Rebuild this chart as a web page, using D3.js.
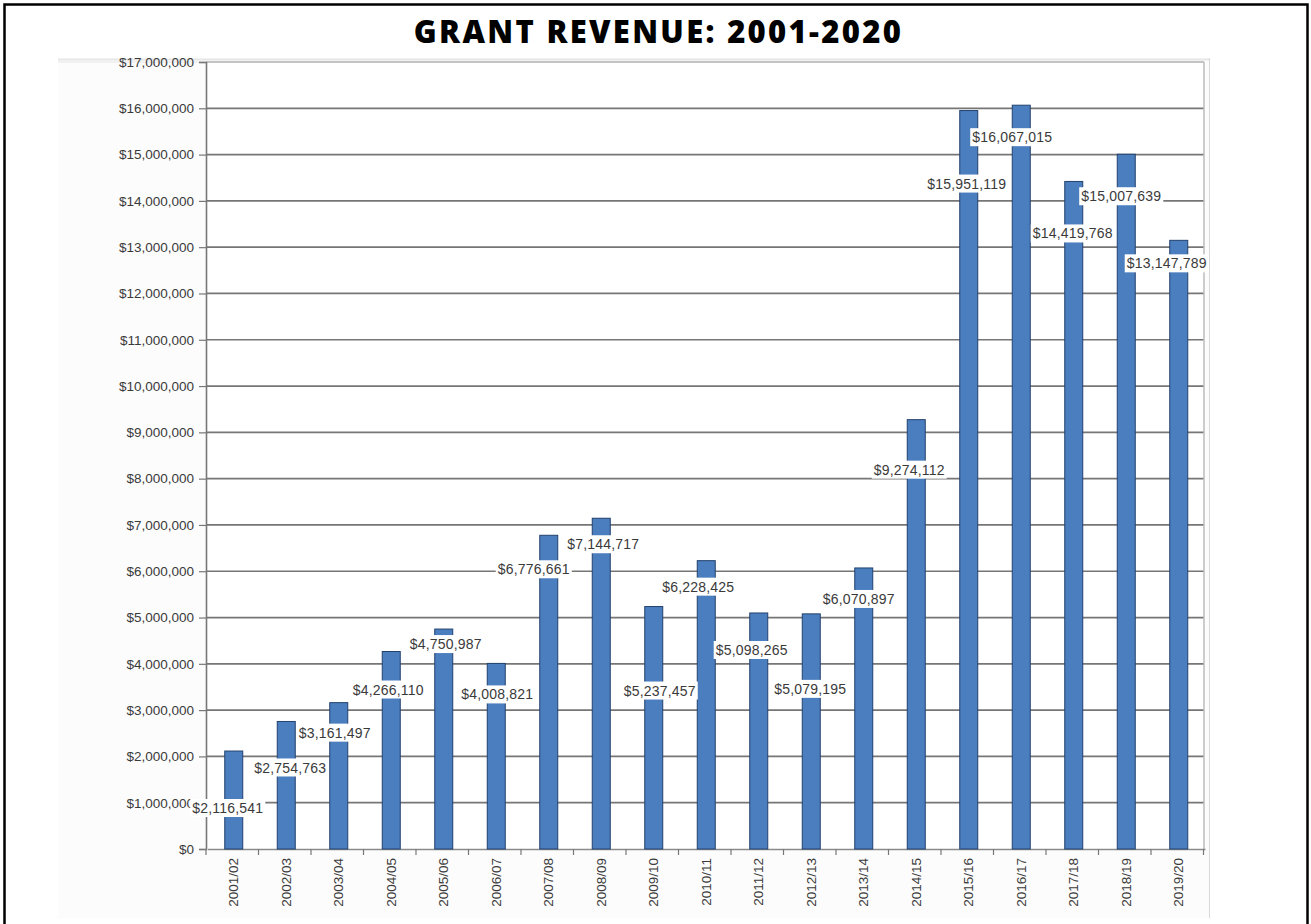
<!DOCTYPE html>
<html>
<head>
<meta charset="utf-8">
<script src="https://cdn.jsdelivr.net/npm/d3@7"></script>
<style>
  html, body { margin: 0; padding: 0; background: #fff; }
  svg { display: block; }
</style>
</head>
<body>
<svg id="chart" width="1311" height="924"></svg>
<script>
// ---- data ----
const categories = ["2001/02","2002/03","2003/04","2004/05","2005/06","2006/07","2007/08","2008/09","2009/10","2010/11","2011/12","2012/13","2013/14","2014/15","2015/16","2016/17","2017/18","2018/19","2019/20"];
const revenue = [2116541, 2754763, 3161497, 4266110, 4750987, 4008821, 6776661, 7144717, 5237457, 6228425, 5098265, 5079195, 6070897, 9274112, 15951119, 16067015, 14419768, 15007639, 13147789];
const yTicks = [0,1000000,2000000,3000000,4000000,5000000,6000000,7000000,8000000,9000000,10000000,11000000,12000000,13000000,14000000,15000000,16000000,17000000];
const titleText = "GRANT REVENUE: 2001-2020";
// label placement offsets (layout only): px relative to bar centre / bar top
const labelDx = [-6, 4, -4, -3, 2, 1, -15, 2, 6, -8, -7, -1, -5, -7, -2, -9, -1, -5, -12];
const labelDy = [57, 46, 30, 38, 15, 31, 34, 26, 84, 26, 37, 75, 31, 50, 73, 32, 52, 42, 23];

const svg = d3.select("#chart");

// outer frame
svg.append("rect").attr("x", 4.5).attr("y", 4.5).attr("width", 1303).attr("height", 940)
  .attr("fill", "none").attr("stroke", "#000").attr("stroke-width", 2.5);

// title
const title = svg.append("text").attr("x", 658.5).attr("y", 43).attr("text-anchor", "middle")
  .attr("font-family", "'Open Sans', sans-serif").attr("font-weight", 800)
  .attr("font-size", 31).attr("fill", "#000").text(titleText);
// fit title to the reference width
const tw = title.node().getComputedTextLength();
title.attr("letter-spacing", Math.max(0, (487 - tw) / 23));

// embedded chart picture backdrop
svg.append("rect").attr("x", 58).attr("y", 59).attr("width", 1151).attr("height", 859)
  .attr("fill", "#fcfcfc");
svg.append("line").attr("x1", 58).attr("x2", 1209).attr("y1", 59.5).attr("y2", 59.5)
  .attr("stroke", "#e6e6e6").attr("stroke-width", 2);
svg.append("line").attr("x1", 1209.5).attr("x2", 1209.5).attr("y1", 58).attr("y2", 918)
  .attr("stroke", "#d8d8d8").attr("stroke-width", 1);

const L = 206, R = 1204, T = 62, B = 849;

const x = d3.scaleBand().domain(categories).range([L + 1.5, R + 1]).paddingInner(0).paddingOuter(0);
const y = d3.scaleLinear().domain([0, 17000000]).range([B, T]);

// plot area
svg.append("rect").attr("x", L).attr("y", T).attr("width", R - L).attr("height", B - T).attr("fill", "#fff");

// gridlines
svg.append("g").selectAll("line").data(yTicks.filter(d => d > 0 && d < 17000000)).join("line")
  .attr("x1", L).attr("x2", R).attr("y1", d => y(d)).attr("y2", d => y(d))
  .attr("stroke", "#767676").attr("stroke-width", 1.7);
// top & right border of plot
svg.append("line").attr("x1", L).attr("x2", R).attr("y1", y(17000000)).attr("y2", y(17000000))
  .attr("stroke", "#c4c4c4").attr("stroke-width", 1.8);
svg.append("line").attr("x1", 58).attr("x2", L).attr("y1", y(17000000)).attr("y2", y(17000000))
  .attr("stroke", "#eeeeee").attr("stroke-width", 1.5);
svg.append("line").attr("x1", R).attr("x2", R).attr("y1", T).attr("y2", B)
  .attr("stroke", "#bdbdbd").attr("stroke-width", 1.5);

// y axis
const yAxis = d3.axisLeft(y).tickValues(yTicks).tickSize(7).tickPadding(5)
  .tickFormat(d => "$" + d3.format(",")(d));
const gy = svg.append("g").attr("transform", `translate(${L},0)`).call(yAxis);
gy.select(".domain").attr("stroke", "#777").attr("stroke-width", 1.6);
gy.selectAll(".tick line").attr("stroke", "#777").attr("stroke-width", 1.2);
gy.selectAll("text").attr("font-family", "'Liberation Sans', Arial, sans-serif")
  .attr("font-size", 13.5).attr("fill", "#3a3a3a");

// x axis
const xAxis = d3.axisBottom(x).tickSize(0).tickPadding(0);
const gx = svg.append("g").attr("transform", `translate(0,${B})`).call(xAxis);
gx.select(".domain").attr("stroke", "#8a8a8a").attr("stroke-width", 1.6);
gx.selectAll(".tick text")
  .attr("font-family", "'Liberation Sans', Arial, sans-serif")
  .attr("font-size", 13.5).attr("fill", "#3a3a3a")
  .attr("text-anchor", "end")
  .attr("transform", "translate(0,9) rotate(-90)")
  .attr("dx", 0).attr("dy", "0.35em").attr("y", 0).attr("x", 0);
// boundary ticks
const bounds = categories.map(c => x(c)).concat([x(categories[categories.length - 1]) + x.bandwidth()]);
svg.append("g").selectAll("line").data(bounds).join("line")
  .attr("x1", d => d - 1.5).attr("x2", d => d - 1.5).attr("y1", B).attr("y2", B + 6)
  .attr("stroke", "#777").attr("stroke-width", 1.2);

// bars
const barW = 18;
svg.append("g").selectAll("rect").data(revenue).join("rect")
  .attr("x", (d, i) => x(categories[i]) + x.bandwidth() / 2 - barW / 2)
  .attr("y", d => y(d))
  .attr("width", barW)
  .attr("height", d => B - y(d))
  .attr("fill", "#4a7ebf").attr("stroke", "#23426e").attr("stroke-width", 1);

// data labels
const lg = svg.append("g");
revenue.forEach((v, i) => {
  const cx = x(categories[i]) + x.bandwidth() / 2 + labelDx[i];
  const cy = y(v) + labelDy[i];
  const g = lg.append("g");
  const t = g.append("text").attr("x", cx).attr("y", cy).attr("dy", "0.36em")
    .attr("text-anchor", "middle")
    .attr("font-family", "'Liberation Sans', Arial, sans-serif")
    .attr("font-size", 14).attr("letter-spacing", 0.2).attr("fill", "#3a3a3a")
    .text("$" + d3.format(",")(v));
  const bb = t.node().getBBox();
  g.insert("rect", "text").attr("x", bb.x - 2).attr("y", cy - 9).attr("width", bb.width + 4).attr("height", 18)
    .attr("fill", "#fff");
});
</script>
</body>
</html>
